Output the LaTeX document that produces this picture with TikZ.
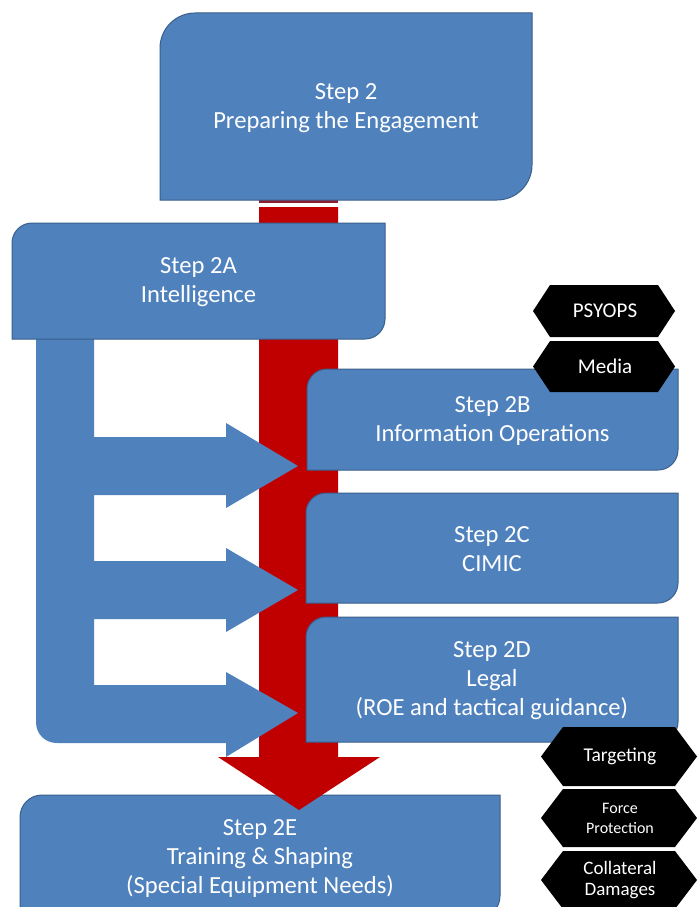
\documentclass[tikz,border=0pt]{standalone}
\usepackage{fontspec}
\setmainfont{Carlito}
\definecolor{boxblue}{HTML}{4F81BD}
\definecolor{boxedge}{HTML}{3A5F8C}
\definecolor{arrred}{HTML}{C00000}
\definecolor{stripred}{HTML}{8E1F2F}
\tikzset{
  boxst/.style={fill=boxblue, draw=boxedge, line width=1pt},
  flowst/.style={fill=boxblue},
  redst/.style={fill=arrred},
  hexst/.style={fill=black},
  boxtxt/.style={text=white, align=center, font=\fontsize{24.6}{29}\selectfont, inner sep=0pt},
  hextxt/.style={text=white, align=center, inner sep=0pt},
}
% name x1 y1 x2 y2 r text
\newcommand\diagbox[7]{%
  \draw[boxst] (#2,#5) -- (#2,#3+#6) .. controls (#2,#3+0.45*#6) and (#2+0.45*#6,#3) .. (#2+#6,#3)
    -- (#4,#3) -- (#4,#5-#6) .. controls (#4,#5-0.45*#6) and (#4-0.45*#6,#5) .. (#4-#6,#5) -- cycle;
  \node[boxtxt] (#1) at ({(#2+#4)/2},{(#3+#5)/2+1.5}) {#7};
}
% name x1 x2 y1 y2 d font text
\newcommand\hexa[8]{%
  \fill[hexst] (#2,{(#4+#5)/2}) -- (#2+#6,#4) -- (#3-#6,#4) -- (#3,{(#4+#5)/2}) -- (#3-#6,#5) -- (#2+#6,#5) -- cycle;
  \node[hextxt, font=#7] (#1) at ({(#2+#3)/2+1},{(#4+#5)/2}) {#8};
}
\begin{document}
\begin{tikzpicture}[x=1pt,y=-1pt]
\useasboundingbox (0,0) rectangle (698,907);
\clip (0,0) rectangle (698,907);
\fill[white] (0,0) rectangle (698,907);

% Step 2E (bottom)
\diagbox{s2e}{20}{795}{500}{918}{22}{Step 2E\\Training \& Shaping\\(Special Equipment Needs)}

% red main arrow
\fill[stripred] (259,200) rectangle (338,203);
\fill[redst] (259,207) -- (338,207) -- (338,757) -- (380,757) -- (299,810) -- (218,757) -- (259,757) -- cycle;

% blue E-shaped arrows from Step 2A
\fill[flowst] (36,330) -- (94,330) -- (94,437) -- (226,437) -- (226,423) -- (298,466) -- (226,508) -- (226,495)
  -- (94,495) -- (94,561) -- (226,561) -- (226,548) -- (298,590) -- (226,632) -- (226,619)
  -- (94,619) -- (94,685) -- (226,685) -- (226,672) -- (298,713) -- (226,757) -- (226,743)
  -- (57,743) .. controls (45,743) and (36,734) .. (36,722) -- cycle;

% boxes
\diagbox{s2a}{12}{223}{385}{339}{20}{Step 2A\\Intelligence}
\diagbox{s2b}{307}{369}{678}{470}{20}{Step 2B\\Information Operations}
\diagbox{s2c}{306}{493}{678}{603}{20}{Step 2C\\CIMIC}
\diagbox{s2d}{306}{617}{678}{742}{20}{Step 2D\\Legal\\(ROE and tactical guidance)}

% hexagons
\hexa{psyops}{533}{675}{285}{337}{17}{\fontsize{21}{24}\selectfont}{PSYOPS}
\hexa{media}{533}{675}{341}{392}{17}{\fontsize{21}{24}\selectfont}{Media}
\hexa{target}{541}{697}{727}{786}{22}{\fontsize{19.5}{22}\selectfont}{Targeting}
\hexa{force}{541}{697}{789}{847}{22}{\fontsize{16}{20}\selectfont}{Force\\Protection}
\hexa{collat}{541}{697}{851}{909}{22}{\fontsize{19}{21}\selectfont}{Collateral\\Damages}

% Step 2 (top)
\diagbox{s2}{160}{13}{532}{200}{35}{Step 2\\Preparing the Engagement}
\end{tikzpicture}
\end{document}
